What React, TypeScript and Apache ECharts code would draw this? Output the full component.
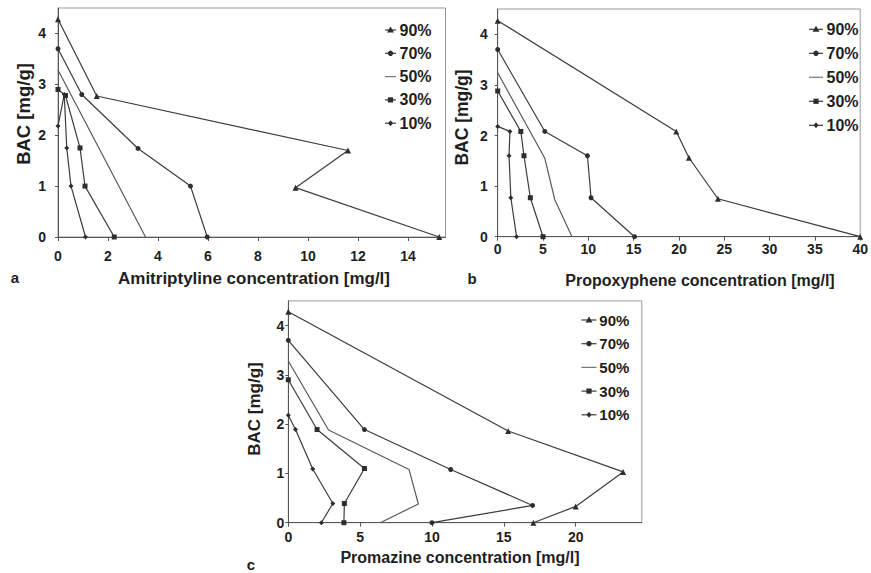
import React, { useEffect, useRef } from "react";
import * as echarts from "echarts";

const levels = ["90%", "70%", "50%", "30%", "10%"];
const symbols = ["triangle", "circle", "none", "rect", "diamond"];

// Panel a: Amitriptyline [x conc mg/l, BAC mg/g]
const ami90 = [[0, 4.28], [1.55, 2.77], [11.6, 1.7], [9.5, 0.97], [15.25, 0]];
const ami70 = [[0, 3.7], [0.95, 2.8], [3.2, 1.74], [5.3, 1.0], [5.97, 0]];
const ami50 = [[0, 3.28], [1.75, 1.64], [3.5, 0]];
const ami30 = [[0, 2.9], [0.3, 2.78], [0.88, 1.75], [1.08, 1.0], [2.25, 0]];
const ami10 = [[0, 2.18], [0.25, 2.8], [0.35, 1.75], [0.52, 1.0], [1.1, 0]];

// Panel b: Propoxyphene
const pro90 = [[0, 4.27], [19.7, 2.08], [21.1, 1.56], [24.3, 0.75], [40, 0]];
const pro70 = [[0, 3.7], [5.2, 2.08], [9.9, 1.6], [10.3, 0.77], [15.1, 0]];
const pro50 = [[0, 3.24], [5.2, 1.55], [6.3, 0.73], [8.2, 0]];
const pro30 = [[0, 2.88], [2.55, 2.08], [2.9, 1.6], [3.6, 0.77], [5, 0]];
const pro10 = [[0, 2.18], [1.35, 2.08], [1.25, 1.6], [1.45, 0.77], [2.08, 0]];

// Panel c: Promazine
const prm90 = [[0, 4.28], [15.3, 1.86], [23.3, 1.03], [20, 0.33], [17.05, 0]];
const prm70 = [[0, 3.7], [5.3, 1.89], [11.3, 1.08], [17, 0.35], [10, 0]];
const prm50 = [[0, 3.28], [2.8, 1.88], [8.4, 1.08], [9.05, 0.38], [6.4, 0]];
const prm30 = [[0, 2.9], [2, 1.89], [5.3, 1.1], [3.9, 0.39], [3.87, 0]];
const prm10 = [[0, 2.18], [0.5, 1.89], [1.7, 1.09], [3.1, 0.39], [2.3, 0]];

const panelData = [
  [ami90, ami70, ami50, ami30, ami10],
  [pro90, pro70, pro50, pro30, pro10],
  [prm90, prm70, prm50, prm30, prm10],
];

const xTitles = [
  "Amitriptyline concentration [mg/l]",
  "Propoxyphene concentration [mg/l]",
  "Promazine concentration [mg/l]",
];
const yTitle = "BAC [mg/g]";
const panelLetters = ["a", "b", "c"];
const xMax = [15.5, 40, 24.6];
const xInterval = [2, 5, 5];
const yMax = 4.5;

const FONT = "Liberation Sans, Arial, sans-serif";
const LINE = "#3c3c3c";
const MARK = "#2e2e2e";
const TEXT = "#1e1e1e";

function legendSymbol(kind: string, cx: number, cy: number): any | null {
  if (kind === "triangle")
    return { type: "polygon", shape: { points: [[cx, cy - 3.5], [cx + 3.5, cy + 2.5], [cx - 3.5, cy + 2.5]] }, style: { fill: MARK } };
  if (kind === "circle") return { type: "circle", shape: { cx, cy, r: 2.7 }, style: { fill: MARK } };
  if (kind === "rect") return { type: "rect", shape: { x: cx - 2.6, y: cy - 2.6, width: 5.2, height: 5.2 }, style: { fill: MARK } };
  if (kind === "diamond")
    return { type: "polygon", shape: { points: [[cx, cy - 3], [cx + 2.5, cy], [cx, cy + 3], [cx - 2.5, cy]] }, style: { fill: MARK } };
  return null;
}

export default function App() {
  const ref = useRef<HTMLDivElement>(null);
  useEffect(() => {
    if (!ref.current) return;
    const chart = echarts.init(ref.current, null, { renderer: "svg" });
    const grids = [
      { left: 58, top: 8, width: 387.5, height: 229 },
      { left: 497.7, top: 9, width: 365.6, height: 227.7 },
      { left: 288.3, top: 300.9, width: 353.5, height: 221.8 },
    ];
    const xLabelMargin = [12, 5, 7];
    const yLabelMargin = [12, 10, 4];
    const series: any[] = [];
    panelData.forEach((sets, p) => {
      sets.forEach((d, i) => {
        series.push({
          type: "line",
          name: levels[i],
          xAxisIndex: p,
          yAxisIndex: p,
          data: d,
          symbol: symbols[i],
          symbolSize: i === 0 ? 6 : 5,
          showSymbol: symbols[i] !== "none",
          lineStyle: { color: i === 2 ? "#5a5a5a" : LINE, width: 1.2 },
          itemStyle: { color: MARK },
          z: 3,
        });
      });
    });
    const legendPos = [
      { cx: 390.5, half: 5.5, tx: 399.5, y0: 30, dy: 23.3, fs: 16 },
      { cx: 816, half: 7, tx: 826.5, y0: 29.3, dy: 24, fs: 16 },
      { cx: 589, half: 7.5, tx: 599.3, y0: 320, dy: 23.7, fs: 15 },
    ];
    const texts: any[] = [];
    legendPos.forEach((l) => {
      levels.forEach((lv, i) => {
        const y = l.y0 + i * l.dy;
        texts.push({
          type: "line",
          shape: { x1: l.cx - l.half, y1: y, x2: l.cx + l.half, y2: y },
          style: { stroke: i === 2 ? "#777" : LINE, lineWidth: 1.2 },
        });
        const s = legendSymbol(symbols[i], l.cx, y);
        if (s) texts.push(s);
        texts.push({
          type: "text",
          x: l.tx,
          y,
          style: {
            text: lv,
            font: `bold ${l.fs}px ${FONT}`,
            fill: TEXT,
            align: "left",
            verticalAlign: "middle",
          },
        });
      });
    });
    const xTitlePos = [
      [254, 278, 17],
      [700, 280, 16],
      [460, 557, 16],
    ];
    const yTitlePos = [
      [23, 114, 18.5],
      [462, 117.5, 17.5],
      [254, 409, 17],
    ];
    const letterPos = [
      [15, 277],
      [472, 278],
      [251, 564],
    ];
    for (let p = 0; p < 3; p++) {
      texts.push({
        type: "text",
        x: xTitlePos[p][0],
        y: xTitlePos[p][1],
        style: {
          text: xTitles[p],
          font: `bold ${xTitlePos[p][2]}px ${FONT}`,
          fill: TEXT,
          align: "center",
          verticalAlign: "middle",
        },
      });
      texts.push({
        type: "text",
        x: yTitlePos[p][0],
        y: yTitlePos[p][1],
        rotation: Math.PI / 2,
        style: {
          text: yTitle,
          font: `bold ${yTitlePos[p][2]}px ${FONT}`,
          fill: TEXT,
          align: "center",
          verticalAlign: "middle",
        },
      });
      texts.push({
        type: "text",
        x: letterPos[p][0],
        y: letterPos[p][1],
        style: {
          text: panelLetters[p],
          font: `bold 15px ${FONT}`,
          fill: TEXT,
          align: "center",
          verticalAlign: "middle",
        },
      });
    }
    chart.setOption({
      animation: false,
      backgroundColor: "#fff",
      grid: grids.map((g) => ({
        ...g,
        show: true,
        borderColor: "#999",
        borderWidth: 1,
        containLabel: false,
      })),
      xAxis: [0, 1, 2].map((p) => ({
        type: "value",
        gridIndex: p,
        min: 0,
        max: xMax[p],
        interval: xInterval[p],
        splitLine: { show: false },
        axisLine: { onZero: false, lineStyle: { color: "#555", width: 1 } },
        axisTick: { show: true, length: 4, lineStyle: { color: "#555" } },
        axisLabel: {
          color: TEXT,
          fontFamily: FONT,
          fontWeight: "bold",
          fontSize: 14,
          margin: xLabelMargin[p],
          showMaxLabel: p === 1,
        },
      })),
      yAxis: [0, 1, 2].map((p) => ({
        type: "value",
        gridIndex: p,
        min: 0,
        max: yMax,
        interval: 1,
        splitLine: { show: false },
        axisLine: { onZero: false, lineStyle: { color: "#555", width: 1 } },
        axisTick: { show: true, length: 3, lineStyle: { color: "#555" } },
        axisLabel: {
          color: TEXT,
          fontFamily: FONT,
          fontWeight: "bold",
          fontSize: 14,
          margin: yLabelMargin[p],
          showMaxLabel: false,
        },
      })),
      graphic: texts,
      series,
    });
    return () => chart.dispose();
  }, []);
  return (
    <div
      ref={ref}
      style={{ position: "fixed", left: 0, top: 0, width: 871, height: 573, background: "#fff" }}
    />
  );
}
